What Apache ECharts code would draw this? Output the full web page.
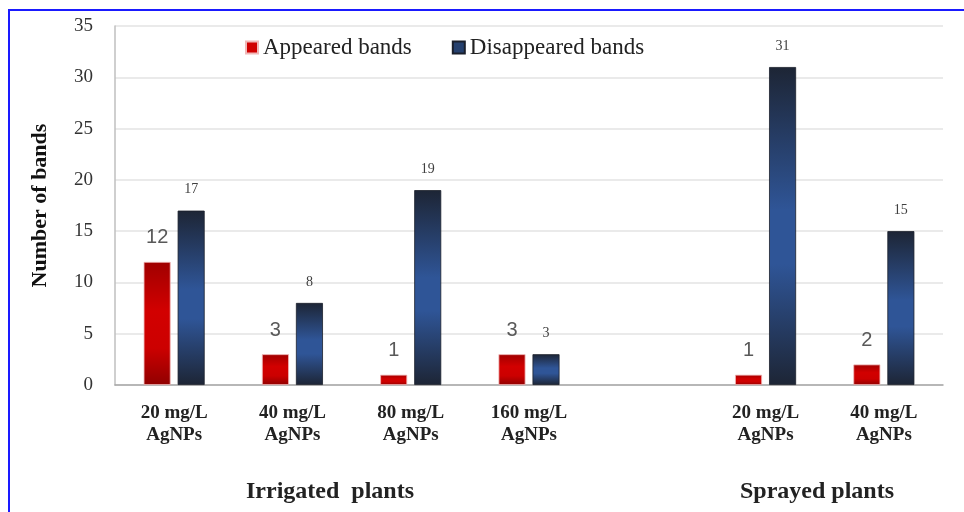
<!DOCTYPE html>
<html>
<head>
<meta charset="utf-8">
<script src="https://cdn.jsdelivr.net/npm/echarts@6/dist/echarts.min.js"></script>
<style>
  html, body { margin: 0; padding: 0; background: #fff; }
  #main { width: 964px; height: 512px; }
</style>
</head>
<body>
<div id="main"></div>
<script>
// categories (empty slot separates the two groups)
var categories = ['20 mg/L\nAgNPs', '40 mg/L\nAgNPs', '80 mg/L\nAgNPs', '160 mg/L\nAgNPs', '', '20 mg/L\nAgNPs', '40 mg/L\nAgNPs']
var appeared = [12, 3, 1, 3, null, 1, 2]
var disappeared = [17, 8, 19, 3, null, 31, 15]
var yTicks = { min: 0, max: 35, interval: 5 }
var groupNames = ['Irrigated  plants', 'Sprayed plants']

var serif = '"Liberation Serif", "DejaVu Serif", serif'

var redFill = new echarts.graphic.LinearGradient(0, 0, 0, 1, [
  { offset: 0, color: '#a00000' },
  { offset: 0.4, color: '#d20000' },
  { offset: 0.7, color: '#cc0000' },
  { offset: 1, color: '#900000' }
])
var blueFill = new echarts.graphic.LinearGradient(0, 0, 0, 1, [
  { offset: 0, color: '#1d2535' },
  { offset: 0.45, color: '#2f5597' },
  { offset: 0.62, color: '#2f5597' },
  { offset: 1, color: '#1d2535' }
])

var myChart = echarts.init(document.getElementById('main'))

myChart.setOption({
  animation: false,
  backgroundColor: '#fff',
  grid: { left: 115, right: 21, top: 26, bottom: 127 },
  legend: {
    left: 240,
    top: 31,
    itemWidth: 12,
    itemHeight: 12,
    itemGap: 40,
    textStyle: { fontFamily: serif, fontSize: 23, color: '#222' },
    data: [
      { name: 'Appeared bands', icon: 'rect', itemStyle: { color: '#d00000' } },
      { name: 'Disappeared bands', icon: 'rect', itemStyle: { color: '#25406e' } }
    ]
  },
  xAxis: {
    type: 'category',
    data: categories,
    axisLine: { lineStyle: { color: '#a6a6a6', width: 1.5 } },
    axisTick: { show: false },
    axisLabel: {
      interval: 0,
      margin: 17,
      fontFamily: serif,
      fontWeight: 'bold',
      fontSize: 19,
      lineHeight: 22,
      color: '#222'
    }
  },
  yAxis: {
    type: 'value',
    min: yTicks.min,
    max: yTicks.max,
    interval: yTicks.interval,
    name: 'Number of bands',
    nameLocation: 'middle',
    nameGap: 64,
    nameTextStyle: { fontFamily: serif, fontWeight: 'bold', fontSize: 22, color: '#111' },
    axisLine: { show: true, lineStyle: { color: '#bfbfbf', width: 1.5 } },
    axisTick: { show: false },
    axisLabel: { margin: 22, fontFamily: serif, fontSize: 19, color: '#333' },
    splitLine: { lineStyle: { color: '#e3e3e3', width: 1.5 } }
  },
  series: [
    {
      name: 'Appeared bands',
      type: 'bar',
      data: appeared,
      barWidth: 27,
      barGap: '26%',
      itemStyle: { color: redFill, borderColor: '#f0b8b8', borderWidth: 0.8 },
      label: {
        show: true,
        position: 'top',
        distance: 14,
        fontFamily: '"Liberation Sans", sans-serif',
        fontSize: 20,
        color: '#595959'
      }
    },
    {
      name: 'Disappeared bands',
      type: 'bar',
      data: disappeared,
      barWidth: 27,
      itemStyle: { color: blueFill, borderColor: '#1a1f2b', borderWidth: 0.8 },
      label: {
        show: true,
        position: 'top',
        distance: 14,
        fontFamily: serif,
        fontSize: 14,
        color: '#404040'
      }
    }
  ],
  graphic: [
    {
      type: 'rect',
      shape: { x: 9, y: 10, width: 1000, height: 600 },
      style: { fill: 'none', stroke: '#1a1aff', lineWidth: 2 },
      silent: true
    },
    {
      type: 'text',
      x: 330, y: 492,
      style: {
        text: groupNames[0], align: 'center', verticalAlign: 'middle',
        font: 'bold 24px ' + serif, fill: '#222'
      }
    },
    {
      type: 'text',
      x: 817, y: 492,
      style: {
        text: groupNames[1], align: 'center', verticalAlign: 'middle',
        font: 'bold 24px ' + serif, fill: '#222'
      }
    }
  ]
})
</script>
</body>
</html>
